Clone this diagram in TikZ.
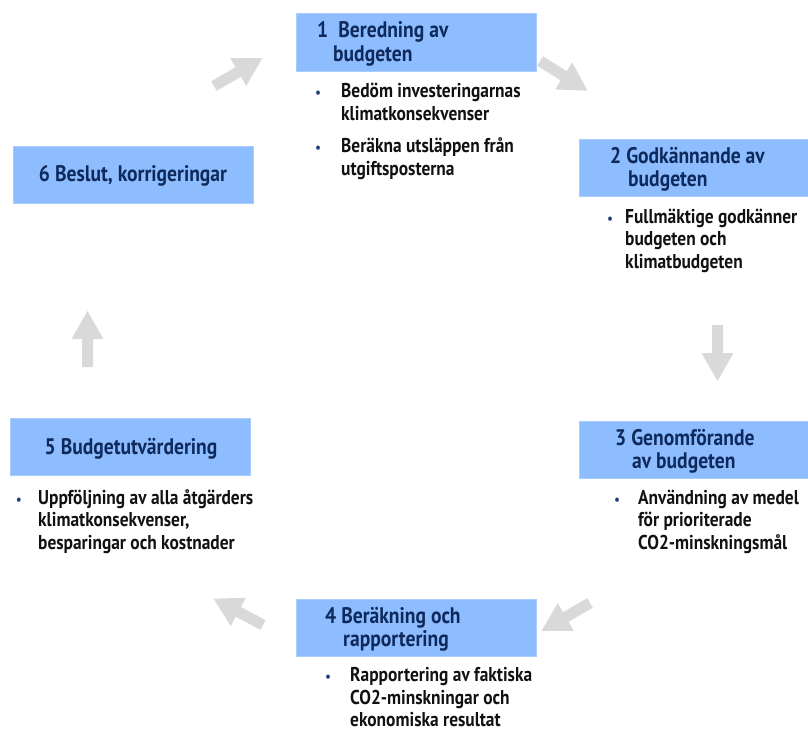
\documentclass[tikz,border=0pt]{standalone}
\usepackage{fontspec}
\setmainfont{PT Sans}[FakeStretch=0.87]
\definecolor{boxfill}{HTML}{8EBDFF}
\definecolor{boxedge}{HTML}{A9CDFF}
\definecolor{titlecol}{HTML}{0E2A5C}
\definecolor{bodycol}{HTML}{111111}
\definecolor{bulcol}{HTML}{1F3A7A}
\definecolor{arrowgrey}{HTML}{D9D9D9}
\newcommand{\blockarr}[2]{%
  \begin{scope}[shift={#1}, rotate=#2]
    \fill[arrowgrey] (0,-5.5) -- (28,-5.5) -- (28,-16) -- (56,0) -- (28,16) -- (28,5.5) -- (0,5.5) -- cycle;
  \end{scope}}
\begin{document}
\begin{tikzpicture}[x=1pt,y=-1pt,
  box/.style={fill=boxfill, draw=boxedge, line width=0.6pt, inner sep=0pt},
  boxw/.style={box, minimum width=240pt, minimum height=57pt},
  boxr/.style={box, minimum width=229pt, minimum height=57pt},
  ttl/.style={font=\fontsize{22.5}{23.5}\selectfont\bfseries, text=titlecol, align=left, inner sep=0pt, anchor=base west},
  ttlc/.style={font=\fontsize{22.5}{23.5}\selectfont\bfseries, text=titlecol, inner sep=0pt, anchor=base},
  body/.style={font=\fontsize{20}{22.5}\selectfont\bfseries, text=bodycol, align=left, inner sep=0pt, anchor=base west},
  bul/.style={font=\fontsize{14}{14}\selectfont\bfseries, text=bulcol, inner sep=0pt, anchor=base}]
\useasboundingbox (0,0) rectangle (808,731);

% boxes
\node[boxw, minimum height=58pt] (b1) at (416,42) {};
\node[boxr] (b2) at (693.5,167.5) {};
\node[boxr] (b3) at (693.5,449.5) {};
\node[boxw] (b4) at (416,627.5) {};
\node[boxw] (b5) at (130,446.5) {};
\node[boxw] (b6) at (133,174.5) {};

% titles (anchor = baseline of last line)
\node[ttl] (t1) at (317,61) {1\hspace{0.45em}Beredning av\\\hspace*{16pt}budgeten};
\node[ttl] (t2) at (610,186.5) {2 Godkännande av\\\hspace*{18pt}budgeten};
\node[ttl] (t3) at (615,468.5) {3 Genomförande\\\hspace*{17pt}av budgeten};
\node[ttl] (t4) at (325,646.5) {4 Beräkning och\\\hspace*{18pt}rapportering};
\node[ttlc] (t5) at (131,454) {5 Budgetutvärdering};
\node[ttlc] (t6) at (133,181) {6 Beslut, korrigeringar};

% bullets and body text (text anchor = baseline of last line)
\node[bul] (d1a) at (318,97.5) {•};
\node[body] (x1a) at (341,120) {Bedöm investeringarnas\\klimatkonsekvenser};
\node[bul] (d1b) at (318,152.5) {•};
\node[body] (x1b) at (341,175) {Beräkna utsläppen från\\utgiftsposterna};

\node[bul] (d2) at (610,223) {•};
\node[body] (x2) at (625,268) {Fullmäktige godkänner\\budgeten och\\klimatbudgeten};

\node[bul] (d3) at (617,504) {•};
\node[body] (x3) at (638,549) {Användning av medel\\för prioriterade\\CO2-minskningsmål};

\node[bul] (d4) at (328,681.5) {•};
\node[body] (x4) at (350,726.5) {Rapportering av faktiska\\CO2-minskningar och\\ekonomiska resultat};

\node[bul] (d5) at (19,504) {•};
\node[body] (x5) at (38,549) {Uppföljning av alla åtgärders\\klimatkonsekvenser,\\besparingar och kostnader};

% grey block arrows
\blockarr{(214,86)}{30}
\blockarr{(540,61)}{-32}
\blockarr{(717.5,325)}{-90}
\blockarr{(590,603)}{-150}
\blockarr{(263,625)}{152}
\blockarr{(87.5,367)}{90}
\end{tikzpicture}
\end{document}
